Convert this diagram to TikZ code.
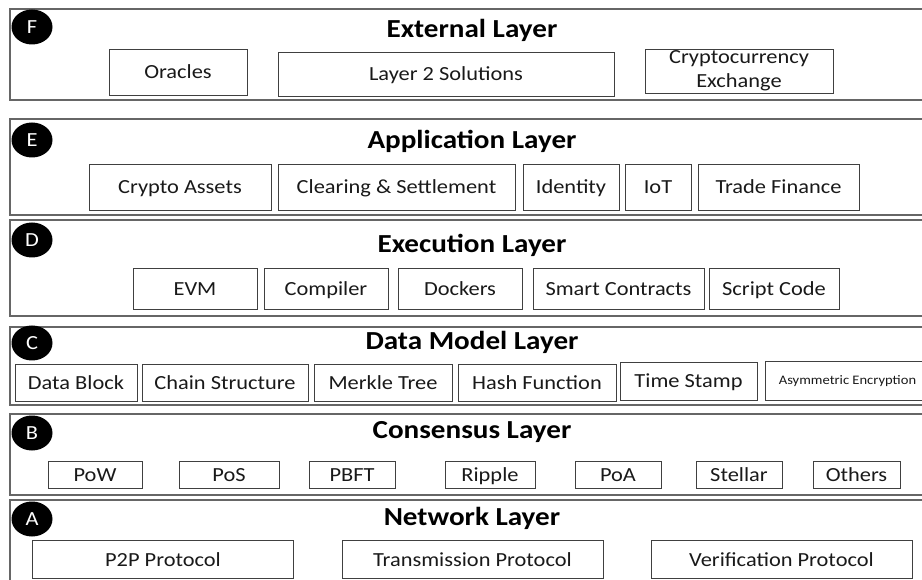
\documentclass[tikz,border=0pt]{standalone}
\usepackage{fontspec}
\setmainfont{Carlito}[FakeStretch=1.12]
\usetikzlibrary{shapes.geometric}

\tikzset{
  layerframe/.style={draw=black!60, line width=1.2pt},
  itembox/.style={draw=black!75, line width=0.9pt, inner sep=0pt, text=black!90,
    align=center, text height=15pt, text depth=1pt, font=\fontsize{20}{24}\selectfont},
  layertitle/.style={text=black, font=\bfseries\fontsize{26}{30}\selectfont},
  badge/.style={ellipse, fill=black, minimum width=41pt, minimum height=35pt,
    inner sep=0pt, text=white, font=\fontsize{20}{20}\selectfont},
}

\begin{document}
\begin{tikzpicture}[x=1pt, y=-1pt]
\useasboundingbox (0,0) rectangle (922,580);

% layer frames
\draw[layerframe] (10,9) rectangle (935,100);
\draw[layerframe] (10,119) rectangle (935,215);
\draw[layerframe] (10,220) rectangle (935,316);
\draw[layerframe] (10,327) rectangle (935,405);
\draw[layerframe] (10,414) rectangle (935,495);
\draw[layerframe] (10,500) rectangle (935,595);

% badges and titles
\foreach \lid/\cy/\ty/\ttl in {F/27/30/External Layer, E/140/141/Application Layer,
    D/240/245/Execution Layer, C/343/342/Data Model Layer,
    B/433/432/Consensus Layer, A/519/518/Network Layer}{
  \node[badge] (badge\lid) at (32,\cy) {\lid};
  \node[layertitle] (title\lid) at (472,\ty) {\ttl};
}

% F: external layer
\node[itembox, minimum width=138pt, minimum height=46pt] (oracles) at (178,72) {Oracles};
\node[itembox, minimum width=336pt, minimum height=44pt] (layertwo) at (446,74) {Layer 2 Solutions};
\node[itembox, minimum width=188pt, minimum height=44pt, text height=, text depth=] (exchange) at (739,71) {Cryptocurrency\\Exchange};

% E: application layer
\foreach \name/\cx/\w/\txt in {assets/180/182/Crypto Assets, clearing/396.5/237/Clearing \& Settlement,
    identity/571/96/Identity, iot/658/66/IoT, finance/778.5/161/Trade Finance}
  \node[itembox, minimum width=\w pt, minimum height=46pt] (\name) at (\cx,187) {\txt};

% D: execution layer
\foreach \name/\cx/\w/\txt in {evm/195/124/EVM, compiler/326/124/Compiler, dockers/460/124/Dockers,
    contracts/618.5/171/Smart Contracts, script/774/130/Script Code}
  \node[itembox, minimum width=\w pt, minimum height=41pt] (\name) at (\cx,288.5) {\txt};

% C: data model layer
\foreach \name/\cx/\w/\txt in {block/76/122/Data Block, chain/225/166/Chain Structure,
    merkle/383/138/Merkle Tree, hash/537/158/Hash Function}
  \node[itembox, minimum width=\w pt, minimum height=37pt] (\name) at (\cx,382.5) {\txt};
\node[itembox, minimum width=137pt, minimum height=38pt] (stamp) at (688.5,381) {Time Stamp};
\node[itembox, minimum width=165pt, minimum height=39pt, text height=9pt, text depth=1pt,
  font=\fontsize{13}{15}\selectfont] (asym) at (847.5,380.5) {Asymmetric Encryption};

% B: consensus layer
\foreach \name/\cx/\w/\txt in {pow/95/94/PoW, pos/229/100/PoS, pbft/352/86/PBFT, ripple/490/90/Ripple,
    poa/618/86/PoA, stellar/739/86/Stellar, others/856.5/87/Others}
  \node[itembox, minimum width=\w pt, minimum height=27pt] (\name) at (\cx,474.5) {\txt};

% A: network layer
\foreach \name/\cx/\txt in {ptwop/163/P2P Protocol, transmission/472.5/Transmission Protocol,
    verification/781.5/Verification Protocol}
  \node[itembox, minimum width=261pt, minimum height=38pt] (\name) at (\cx,559) {\txt};
\end{tikzpicture}
\end{document}
